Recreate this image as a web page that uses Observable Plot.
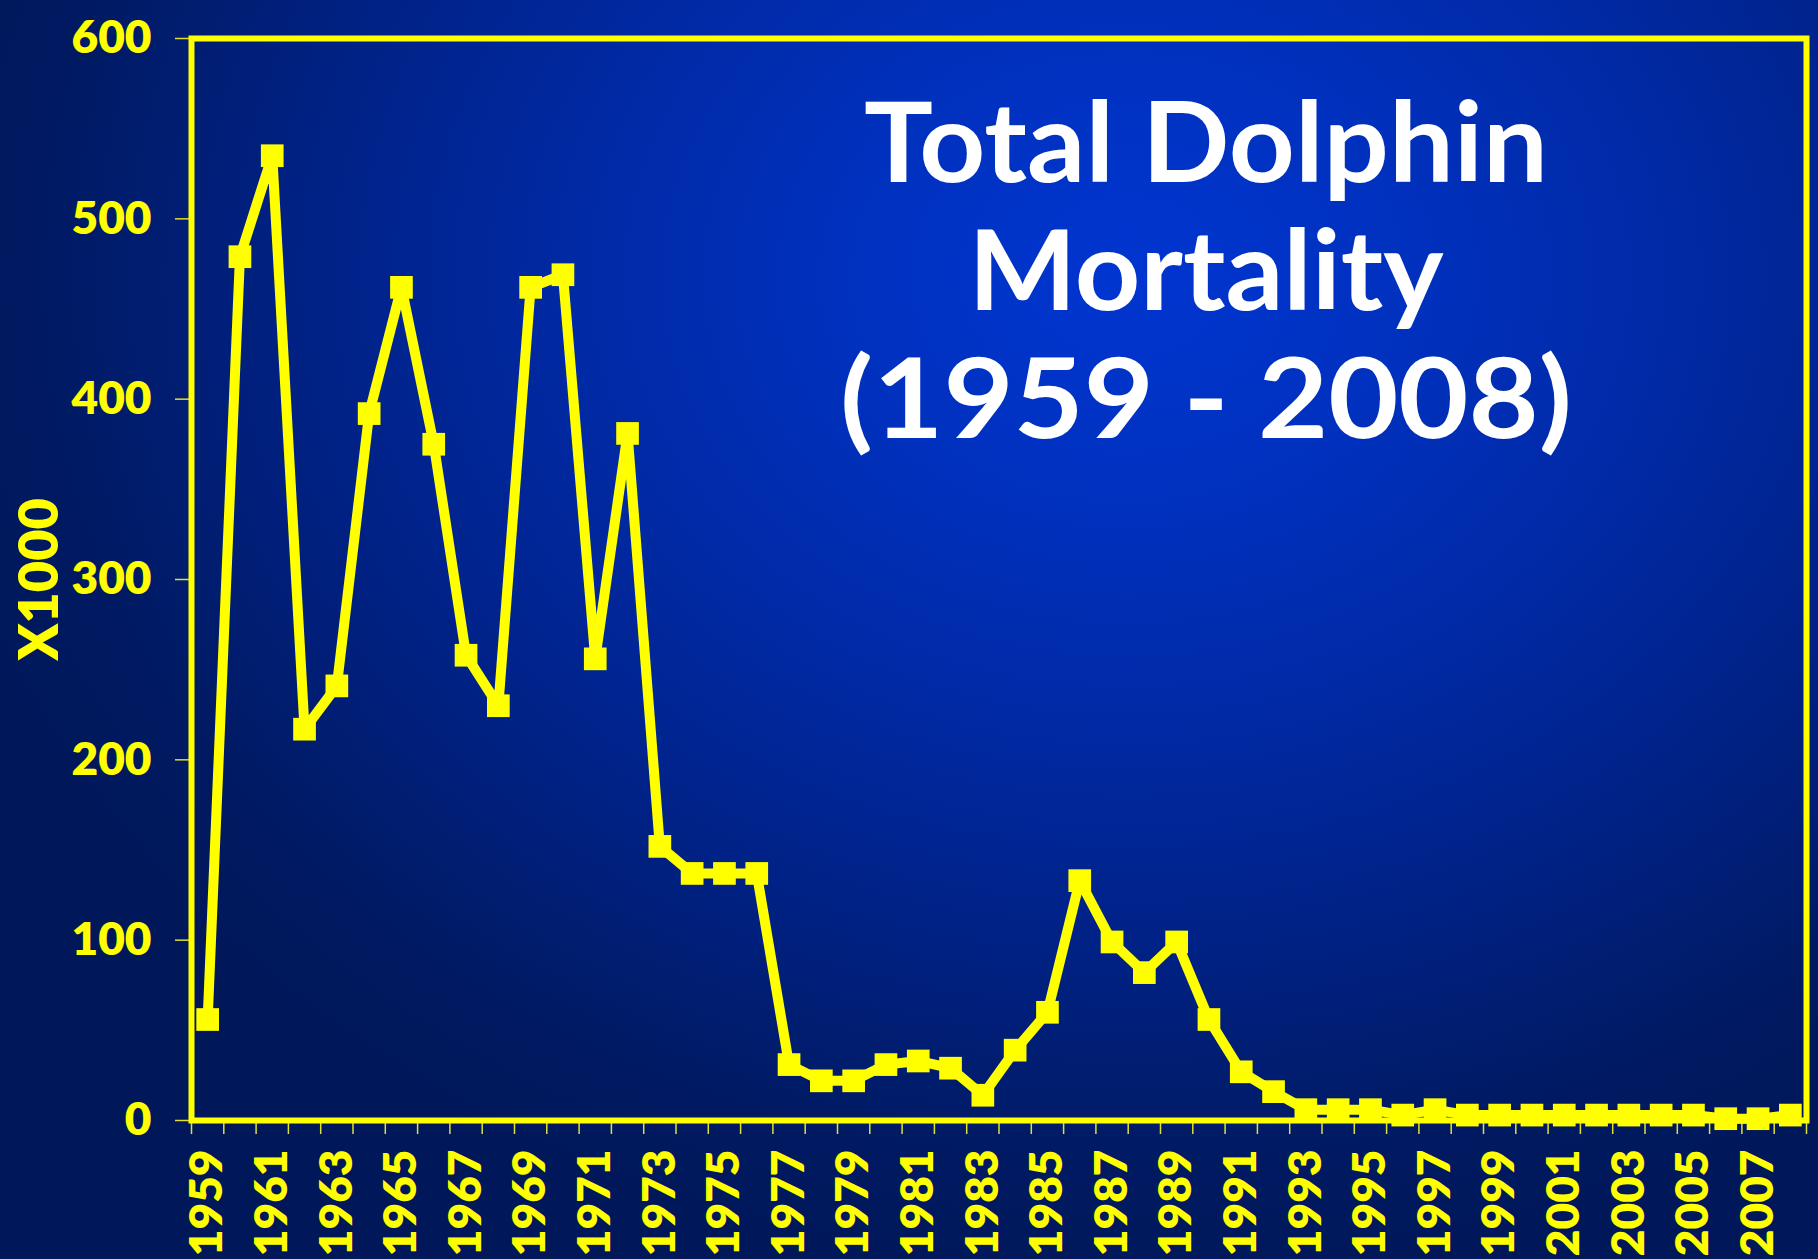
<!DOCTYPE html>
<html>
<head>
<meta charset="utf-8">
<script src="https://cdn.jsdelivr.net/npm/d3@7"></script>
<script src="https://cdn.jsdelivr.net/npm/@observablehq/plot@0.6"></script>
<style>
  html, body { margin: 0; padding: 0; width: 1818px; height: 1259px; overflow: hidden; }
  body {
    background: radial-gradient(ellipse 68% 80% at 62% 22%, #0035d0 0%, #0031bf 22%, #0029a4 45%, #002183 68%, #001a62 88%, #00185a 100%);
  }
  #chart svg { display: block; }
</style>
</head>
<body>
<div id="chart"></div>
<script>
const years = [1959,1960,1961,1962,1963,1964,1965,1966,1967,1968,1969,1970,1971,1972,1973,1974,1975,1976,1977,1978,1979,1980,1981,1982,1983,1984,1985,1986,1987,1988,1989,1990,1991,1992,1993,1994,1995,1996,1997,1998,1999,2000,2001,2002,2003,2004,2005,2006,2007,2008];
const mortality = [56,479,535,217,241,392,462,375,258,230,462,469,256,381,152,137,137,137,31,22,22,31,33,29,14,39,60,133,99,82,99,56,27,16,6,6,6,3,6,3,3,3,3,3,3,3,3,1,1,3];
const yTicks = [0,100,200,300,400,500,600];
const xTickLabels = [1959,1961,1963,1965,1967,1969,1971,1973,1975,1977,1979,1981,1983,1985,1987,1989,1991,1993,1995,1997,1999,2001,2003,2005,2007];
const titleLines = ["Total Dolphin", "Mortality", "(1959 - 2008)"];
const yLabel = "X1000";

const data = years.map((year, i) => ({year, value: mortality[i]}));
const boundaries = years.map(y => y - 0.5).concat([years[years.length - 1] + 0.5]);

const yellow = "#ffff00";

const plot = Plot.plot({
  width: 1818,
  height: 1259,
  marginLeft: 191,
  marginRight: 12,
  marginTop: 38,
  marginBottom: 139,
  style: {background: "transparent", color: yellow, fontFamily: "Lato, 'Open Sans', sans-serif", fontWeight: 800, overflow: "visible"},
  x: {type: "linear", domain: [boundaries[0], boundaries[boundaries.length - 1]]},
  y: {domain: [0, 600]},
  marks: [
    Plot.axisY({ticks: yTicks, tickSize: 16, tickPadding: 24, fontSize: 46, fontWeight: 800, stroke: "#e0e030", strokeWidth: 1.5, fill: yellow, label: null, tickFormat: d => String(d)}),
    Plot.axisX({ticks: boundaries, tickSize: 14, tickFormat: () => "", stroke: "#e0e030", strokeWidth: 1.5, label: null}),
    Plot.axisX({ticks: xTickLabels, tickSize: 0, tickPadding: 29, tickRotate: -90, fontSize: 46, fontWeight: 800, fill: yellow, label: null, tickFormat: d => String(d)}),
    Plot.frame({stroke: yellow, strokeWidth: 6}),
    Plot.lineY(data, {x: "year", y: "value", stroke: yellow, strokeWidth: 10, strokeLinejoin: "round"}),
    Plot.dot(data, {x: "year", y: "value", symbol: "square", r: 12.8, fill: yellow, stroke: null}),
    Plot.text([yLabel], {frameAnchor: "left", textAnchor: "middle", dx: -151, rotate: -90, fontSize: 54, fontWeight: 800, fill: yellow})
  ]
});

document.getElementById("chart").appendChild(plot);

// Title block (three centred white lines inside the plot area)
const titleWidths = [684, 475, 732];
const titleBaselines = [182, 310, 438];
const svg = d3.select(plot);
titleLines.forEach((line, i) => {
  svg.append("text")
    .attr("x", 1206)
    .attr("y", titleBaselines[i])
    .attr("text-anchor", "middle")
    .attr("fill", "#ffffff")
    .attr("font-family", "Lato, 'Open Sans', sans-serif")
    .attr("font-weight", 700)
    .attr("font-size", 111)
    .attr("textLength", titleWidths[i])
    .attr("lengthAdjust", "spacingAndGlyphs")
    .text(line);
});
</script>
</body>
</html>
